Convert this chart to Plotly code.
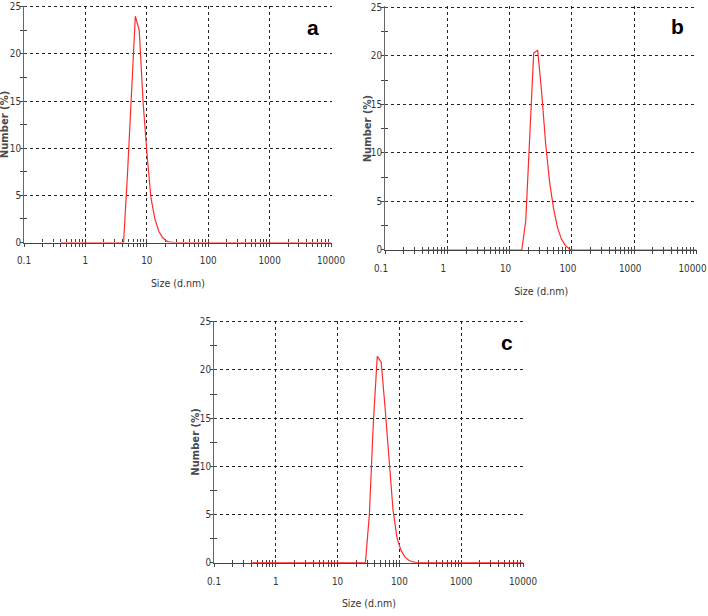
import plotly.graph_objects as go

# ---------------- data ----------------
size_a = [0.4, 4.187, 4.849, 5.615, 6.503, 7.531, 8.721, 10.1, 11.7, 13.54, 15.69, 18.17, 21.04, 24.36, 28.21, 10000]
number_a = [0, 0, 7.3, 15.5, 24.0, 22.5, 14.8, 9.3, 4.7, 2.5, 1.2, 0.5, 0.15, 0.03, 0, 0]

size_b = [0.4, 15.69, 18.17, 21.04, 24.36, 28.21, 32.67, 37.84, 43.82, 50.75, 58.77, 68.06, 78.82, 91.28, 105.7, 10000]
number_b = [0, 0, 3.0, 11.0, 20.3, 20.6, 16.3, 11.0, 7.0, 4.3, 2.3, 1.1, 0.45, 0.1, 0, 0]

size_c = [0.4, 28.21, 32.67, 37.84, 43.82, 50.75, 58.77, 68.06, 78.82, 91.28, 105.7, 122.4, 141.8, 164.2, 190.1, 10000]
number_c = [0, 0, 5.0, 14.5, 21.4, 20.8, 16.0, 10.3, 5.5, 2.6, 1.3, 0.6, 0.25, 0.08, 0, 0]

x_ticks = [0.1, 1, 10, 100, 1000, 10000]
x_tick_labels = ["0.1", "1", "10", "100", "1000", "10000"]
x_minor = [m * d for d in [0.1, 1, 10, 100, 1000] for m in range(2, 10)]
y_ticks = [0, 5, 10, 15, 20, 25]
y_minor = [2.5, 7.5, 12.5, 17.5, 22.5]
panel_labels = ["a", "b", "c"]
x_title = "Size (d.nm)"
y_title = "Number (%)"

W, H = 708, 616
# pixel boxes of each plot area: (left, right, top, bottom) for x=0.1..10000, y=0..25
boxes = [(24, 331, 6.8, 242.5), (385, 696.5, 7.5, 250), (214, 523, 321.7, 562.7)]
ytitle_x = [4.5, 367.5, 195.5]                 # pixel centre of the y titles
letter_pos = [(312.5, 27.5), (677.5, 27), (507, 342.5)]
series = [(size_a, number_a), (size_b, number_b), (size_c, number_c)]

XPAD = 0.012   # small extension of the ranges so the edge gridlines are drawn
YPAD = 0.12

TICKFONT = dict(family="DejaVu Sans Condensed, Liberation Sans, sans-serif", size=9.8, color="#333333")
AXCOL = "#444444"

fig = go.Figure()
layout = dict(width=W, height=H, margin=dict(l=0, r=0, t=0, b=0),
              paper_bgcolor="white", plot_bgcolor="white", showlegend=False)
annotations = []

for i, ((l, r, t, b), (xs, ys)) in enumerate(zip(boxes, series)):
    n = i + 1
    xpx = (r - l) / 5.0
    ypx = (b - t) / 25.0
    xd = [l / W, (r + XPAD * xpx) / W]
    yd = [1 - b / H, 1 - (t - YPAD * ypx) / H]
    xr = [-1, 4 + XPAD]
    yr = [0, 25 + YPAD]
    xa = f"x{n}" if n > 1 else "x"
    ya = f"y{n}" if n > 1 else "y"
    shift = -4 if r > W - 16 else 0   # keep the last label of the right-hand panel inside the page
    fig.add_trace(go.Scatter(x=xs, y=ys, mode="lines", xaxis=xa, yaxis=ya,
                             line=dict(color="#ff2a2a", width=1.2), hoverinfo="skip"))
    xkey = f"xaxis{n}" if n > 1 else "xaxis"
    ykey = f"yaxis{n}" if n > 1 else "yaxis"
    layout[xkey] = dict(
        type="log", range=xr, domain=xd, anchor=ya, automargin=False,
        tickvals=x_ticks, ticktext=x_tick_labels, tickfont=TICKFONT, ticklabeloverflow="allow",
        ticklabelshift=shift,
        ticks="inside", ticklen=3, tickcolor=AXCOL, tickwidth=1,
        minor=dict(tickvals=x_minor, ticks="inside", ticklen=3, tickcolor=AXCOL, showgrid=False),
        showline=True, linecolor=AXCOL, linewidth=1.3, layer="below traces",
        showgrid=True, gridcolor="#222222", griddash="dot", gridwidth=1,
        zeroline=False, ticklabelstandoff=9,
        title=dict(text=x_title, font=dict(family=TICKFONT["family"], size=10.5, color="#333333"), standoff=14),
    )
    layout[ykey] = dict(
        range=yr, domain=yd, anchor=xa, automargin=False,
        tickvals=y_ticks, tickfont=TICKFONT, ticklabeloverflow="allow",
        ticks="inside", ticklen=3, tickcolor=AXCOL, tickwidth=1,
        minor=dict(tickvals=y_minor, ticks="inside", ticklen=3, tickcolor=AXCOL, showgrid=False),
        showline=True, linecolor="#666666", linewidth=1, layer="below traces",
        showgrid=True, gridcolor="#222222", griddash="dot", gridwidth=1,
        zeroline=False, ticklabelstandoff=0,
    )
    # overlay axes giving the outer half of the crossing ticks
    ox, oy = 3 + 2 * n, 4 + 2 * n
    layout[f"xaxis{ox}"] = dict(type="log", range=xr, overlaying=xa, anchor=ya, automargin=False,
                                tickvals=x_ticks, showticklabels=False, ticks="outside", ticklen=3,
                                tickcolor=AXCOL, showgrid=False, zeroline=False, showline=False,
                                minor=dict(tickvals=x_minor, ticks="outside", ticklen=3, tickcolor=AXCOL, showgrid=False))
    layout[f"yaxis{oy}"] = dict(range=yr, overlaying=ya, anchor=xa, automargin=False,
                                tickvals=y_ticks, showticklabels=False, ticks="outside", ticklen=3,
                                tickcolor=AXCOL, showgrid=False, zeroline=False, showline=False,
                                minor=dict(tickvals=y_minor, ticks="outside", ticklen=3, tickcolor=AXCOL, showgrid=False))
    fig.add_trace(go.Scatter(x=[], y=[], xaxis=f"x{ox}", yaxis=f"y{oy}", hoverinfo="skip"))
    # y title
    annotations.append(dict(text=f"<b>{y_title}</b>", xref="paper", yref="paper",
                            x=ytitle_x[i] / W, y=1 - (t + b) / 2 / H, textangle=-90,
                            xanchor="center", yanchor="middle", showarrow=False,
                            font=dict(family="DejaVu Sans, sans-serif", size=10, color="#4a4a4a")))
    # panel letter
    lx, ly = letter_pos[i]
    annotations.append(dict(text=f"<b>{panel_labels[i]}</b>", xref="paper", yref="paper",
                            x=lx / W, y=1 - ly / H, xanchor="center", yanchor="middle", showarrow=False,
                            font=dict(family="Liberation Sans, Arial, sans-serif", size=21, color="black")))

layout["annotations"] = annotations
fig.update_layout(**layout)
fig.write_html("out.html", config={"displayModeBar": False},
               post_script="document.body.style.margin='0';document.body.style.padding='0';")
